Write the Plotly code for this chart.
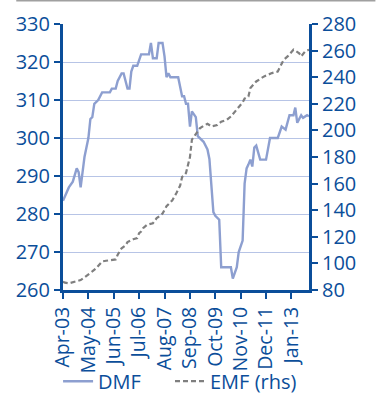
import plotly.graph_objects as go

dmf_dates = ["2003-04","2003-06","2003-07","2003-09","2003-11","2003-12","2004-01","2004-03","2004-05","2004-06",
             "2004-07","2004-08","2004-10","2004-12","2005-04","2005-05","2005-07","2005-08","2005-10","2005-11",
             "2006-01","2006-02","2006-03","2006-04","2006-06","2006-08","2006-12","2007-01","2007-02","2007-04",
             "2007-05","2007-07","2007-08","2007-09","2007-10","2007-11","2008-03","2008-05","2008-06","2008-07",
             "2008-08","2008-09","2008-10","2008-12","2009-01","2009-04","2009-06","2009-07","2009-08","2009-09",
             "2009-10","2009-12","2010-01","2010-06","2010-07","2010-09","2010-10","2010-12","2011-01","2011-02",
             "2011-03","2011-04","2011-05","2011-06","2011-07","2011-09","2011-12","2012-02","2012-06","2012-08",
             "2012-10","2012-12","2013-02","2013-03","2013-04","2013-06","2013-07","2013-09","2013-10"]
dmf_values = [283.5,286,287,288.5,292,291,287,295,300,305,
              305.5,309,310,312,312,313,313,315,317,317,
              313,313,317.5,319,319,322,322,325,321,321,
              325,325,321.5,316,317,316,316,311,311,309,
              309,303,307,305.5,300.5,299,297,294.5,287,280.5,
              279.5,278.5,266,266,263,266,270,273,288,292,
              293,294.3,292.5,297.5,298,294.3,294.3,300,300,303,
              302.2,306,306,308,304,306,305.3,306,305.7]

emf_dates = ["2003-04","2003-05","2003-07","2003-10","2004-01","2004-03","2004-05","2004-07","2004-09","2004-12",
             "2005-02","2005-04","2005-07","2005-08","2005-10","2005-12","2006-01","2006-04","2006-06","2006-07",
             "2006-08","2006-09","2006-11","2007-02","2007-04","2007-06","2007-07","2007-09","2007-12","2008-02",
             "2008-04","2008-05","2008-06","2008-07","2008-08","2008-09","2008-10","2008-12","2009-02","2009-04",
             "2009-06","2009-08","2009-11","2010-01","2010-04","2010-06","2010-09","2010-12","2011-01","2011-03",
             "2011-04","2011-07","2011-11","2012-03","2012-06","2012-09","2012-11","2013-02","2013-03","2013-05",
             "2013-06","2013-08","2013-10"]
emf_values = [86.3,85.5,85,86,87.5,89.5,91.5,94,96.5,101.5,
              102,102.6,103,106.5,111.4,113.5,116,118.2,119,122.7,
              124,126.5,129,130.2,134,136,137.5,143,147.5,152.8,
              158.5,165,166,168,174,180,193,197,201.5,203.5,
              205,203,204,206.5,208,210.5,215.5,221,224,225.5,
              231.8,236.8,240.6,243.1,244.3,253.1,255.6,260.7,260,258,
              255.6,259.4,260.7]

tick_dates = ["2003-04","2004-05","2005-06","2006-07","2007-08","2008-09","2009-10","2010-11","2011-12","2013-01"]
tick_labels = ["Apr-03","May-04","Jun-05","Jul-06","Aug-07","Sep-08","Oct-09","Nov-10","Dec-11","Jan-13"]

BLUE = "#0b4e9a"
FONT = "Open Sans"

fig = go.Figure()
fig.add_trace(go.Scatter(x=dmf_dates, y=dmf_values, name="DMF", mode="lines", legend="legend",
                         line=dict(color="#8d9fd0", width=2.4)))
fig.add_trace(go.Scatter(x=emf_dates, y=emf_values, name="EMF (rhs)", mode="lines", yaxis="y2",
                         legend="legend2",
                         line=dict(color="#7f7f7f", width=2.2, dash="5px,3px")))

legend_common = dict(orientation="h", xanchor="left", yref="container", y=0.035, yanchor="middle",
                     font=dict(size=20, color=BLUE, family=FONT), bgcolor="rgba(0,0,0,0)",
                     borderwidth=0)

fig.update_layout(
    width=377, height=395,
    margin=dict(l=63, r=68, t=24, b=105, autoexpand=False),
    paper_bgcolor="white", plot_bgcolor="white",
    font=dict(family=FONT, color=BLUE, size=20),
    xaxis=dict(type="date", range=["2003-04-01", "2013-10-01"], automargin=False,
               tickvals=tick_dates, ticktext=tick_labels, tickangle=-90,
               showgrid=False, showline=True, linecolor=BLUE, linewidth=3,
               ticks="outside", ticklen=6, tickwidth=2, tickcolor=BLUE,
               tickfont=dict(size=19.5, color=BLUE, family=FONT), zeroline=False),
    yaxis=dict(range=[260, 330], dtick=10, showgrid=True, gridcolor="#b7c4e6", gridwidth=1,
               automargin=False,
               showline=True, linecolor=BLUE, linewidth=3, ticks="outside", ticklen=6,
               tickwidth=2, tickcolor=BLUE, tickfont=dict(size=20, color=BLUE, family=FONT),
               zeroline=False),
    yaxis2=dict(range=[80, 280], dtick=20, overlaying="y", side="right", showgrid=False,
                automargin=False,
                showline=True, linecolor=BLUE, linewidth=3, ticks="outside", ticklen=6,
                tickwidth=2, tickcolor=BLUE, tickfont=dict(size=20, color=BLUE, family=FONT),
                zeroline=False),
    legend=dict(x=-0.02, **legend_common),
    legend2=dict(x=0.435, **legend_common),
    showlegend=True,
    shapes=[dict(type="line", xref="paper", yref="paper", x0=-0.19, x1=1.27, y0=1.088, y1=1.088,
                 line=dict(color="#a0a0a0", width=2))],
)

fig.write_html("out.html", config={"displayModeBar": False},
               post_script="document.body.style.margin='0';document.body.style.padding='0';")
